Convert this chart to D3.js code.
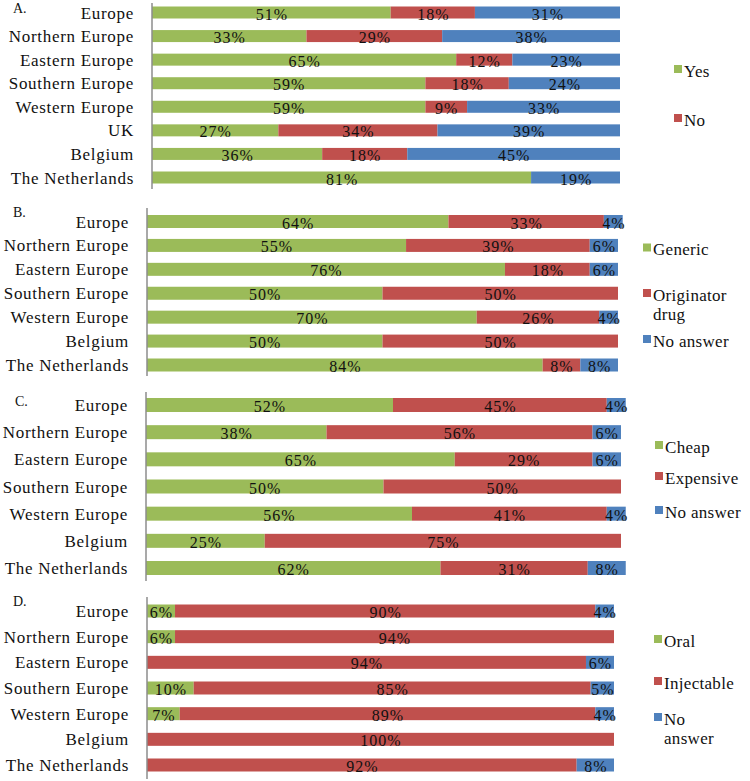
<!DOCTYPE html>
<html><head><meta charset="utf-8">
<script src="https://cdn.jsdelivr.net/npm/d3@7"></script>
</head><body style="margin:0">
<script>
const categoriesA = ["Europe","Northern Europe","Eastern Europe","Southern Europe","Western Europe","UK","Belgium","The Netherlands"];
const yesA = [51,33,65,59,59,27,36,81];
const noA = [18,29,12,18,9,34,18,0];
const unansweredA = [31,38,23,24,33,39,45,19];

const categories = ["Europe","Northern Europe","Eastern Europe","Southern Europe","Western Europe","Belgium","The Netherlands"];
const genericB = [64,55,76,50,70,50,84];
const originatorB = [33,39,18,50,26,50,8];
const noAnswerB = [4,6,6,0,4,0,8];

const cheapC = [52,38,65,50,56,25,62];
const expensiveC = [45,56,29,50,41,75,31];
const noAnswerC = [4,6,6,0,4,0,8];

const oralD = [6,6,0,10,7,0,0];
const injectableD = [90,94,94,85,89,100,92];
const noAnswerD = [4,0,6,5,4,0,8];

const colors = ["#9BBB59","#C0504D","#4F81BD"];

const panels = [
  {letter:"A.", cats:categoriesA, series:[yesA,noA,unansweredA], normalize:true,
   x0:152,x1:620,yA:12.5,yB:177.5,bh:12,ax:[3,189],lx:13,ly:13,
   legend:[{lines:["Yes"],c:0,x:674,y:69},{lines:["No"],c:1,x:674,y:118}]},
  {letter:"B.", cats:categories, series:[genericB,originatorB,noAnswerB], normalize:false,
   x0:147,x1:618,yA:221.5,yB:365,bh:13,ax:[208,376],lx:13,ly:217,
   legend:[{lines:["Generic"],c:0,x:643,y:247.5},{lines:["Originator","drug"],c:1,x:643,y:293},{lines:["No answer"],c:2,x:643,y:339}]},
  {letter:"C.", cats:categories, series:[cheapC,expensiveC,noAnswerC], normalize:false,
   x0:146,x1:621,yA:405,yB:568,bh:14,ax:[392,581],lx:15,ly:406,
   legend:[{lines:["Cheap"],c:0,x:655,y:445},{lines:["Expensive"],c:1,x:655,y:476},{lines:["No answer"],c:2,x:655,y:510}]},
  {letter:"D.", cats:categories, series:[oralD,injectableD,noAnswerD], normalize:false,
   x0:147,x1:614,yA:611,yB:765,bh:13,ax:[597,779],lx:13,ly:606,
   legend:[{lines:["Oral"],c:0,x:654,y:639},{lines:["Injectable"],c:1,x:654,y:681},{lines:["No","answer"],c:2,x:654,y:717}]}
];

const svg = d3.select("body").append("svg").attr("width",750).attr("height",781)
  .attr("font-family","Liberation Serif");

panels.forEach(p => {
  const g = svg.append("g").attr("font-family","Liberation Serif");
  const x = d3.scaleLinear().domain([0,100]).range([p.x0,p.x1]);
  const y = d3.scalePoint().domain(p.cats).range([p.yA,p.yB]);
  const rows = p.cats.map((c,i) => {
    const vals = p.series.map(s => s[i]);
    const tot = d3.sum(vals);
    const f = p.normalize ? 100/tot : 1;
    let acc = 0;
    return vals.map((v,k) => { const seg = {cat:c,k,v,a:acc*f,b:(acc+v)*f}; acc += v; return seg; });
  }).flat();

  g.selectAll("rect.bar").data(rows.filter(d=>d.v>0)).join("rect")
    .attr("x",d=>x(d.a)).attr("width",d=>x(d.b)-x(d.a))
    .attr("y",d=>y(d.cat)-p.bh/2).attr("height",p.bh)
    .attr("fill",d=>colors[d.k]);

  g.selectAll("text.val").data(rows.filter(d=>d.v>0)).join("text")
    .attr("font-family","Liberation Serif")
    .attr("x",d=>(x(d.a)+x(d.b))/2 + 0.5).attr("y",d=>y(d.cat)+7)
    .attr("text-anchor","middle")
    .attr("font-size",16).attr("letter-spacing",1).attr("fill","#111")
    .text(d=>d.v+"%");

  g.selectAll("text.cat").data(p.cats).join("text")
    .attr("font-family","Liberation Serif")
    .attr("x",p.x0-18).attr("y",d=>y(d)+6)
    .attr("text-anchor","end")
    .attr("font-size",17).attr("letter-spacing",0.7).attr("fill","#111")
    .text(d=>d);

  g.append("line").attr("x1",p.x0).attr("x2",p.x0).attr("y1",p.ax[0]).attr("y2",p.ax[1])
    .attr("stroke","#8c8c8c").attr("stroke-width",1.5);

  g.append("text").attr("font-family","Liberation Serif").attr("x",p.lx).attr("y",p.ly)
    .attr("font-size",14).attr("fill","#111").text(p.letter);

  p.legend.forEach(l => {
    g.append("rect").attr("x",l.x).attr("y",l.y-4).attr("width",8).attr("height",8).attr("fill",colors[l.c]);
    l.lines.forEach((t,j) => {
      g.append("text").attr("font-family","Liberation Serif").attr("x",l.x+10).attr("y",l.y+7.5+j*19)
        .attr("font-size",17).attr("letter-spacing",0.3).attr("fill","#111").text(t);
    });
  });
});
</script>
</body></html>
